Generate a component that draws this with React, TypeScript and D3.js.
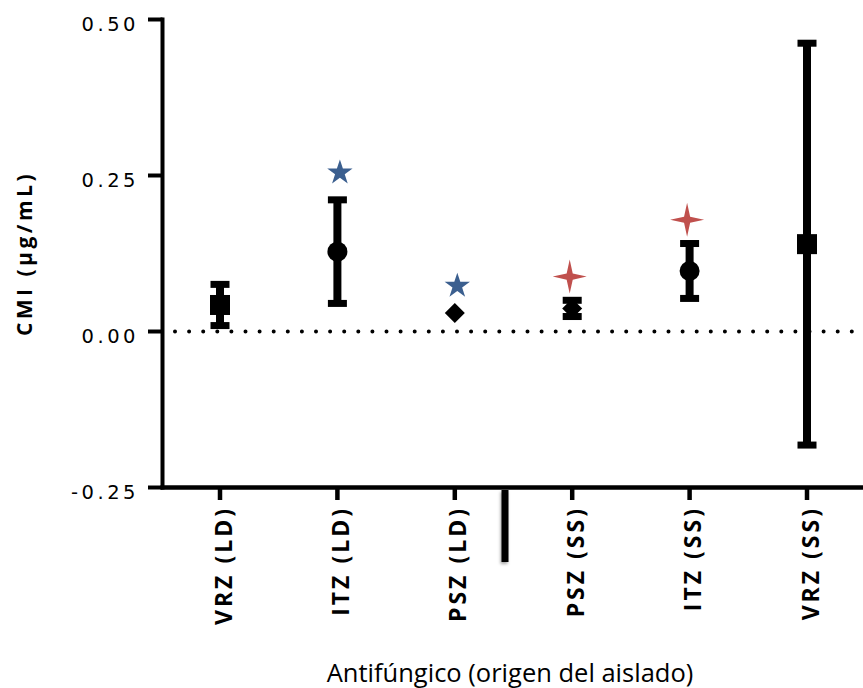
import React from "react";
import * as d3 from "d3";

const categories = ["VRZ (LD)", "ITZ (LD)", "PSZ (LD)", "PSZ (SS)", "ITZ (SS)", "VRZ (SS)"];
const means = [0.0425, 0.128, 0.0295, 0.037, 0.097, 0.14];
const errors = [0.033, 0.083, 0, 0.013, 0.044, 0.322];
const markers = ["square", "circle", "diamond", "diamond", "circle", "square"];

const blueStarCats = ["ITZ (LD)", "PSZ (LD)"];
const blueStarValues = [0.2545, 0.073];
const redStarCats = ["PSZ (SS)", "ITZ (SS)"];
const redStarValues = [0.088, 0.179];

const yTicks = [0.5, 0.25, 0, -0.25];
const yTickLabels = ["0.50", "0.25", "0.00", "-0.25"];

const yTitle = "CMI (µg/mL)";
const xTitle = "Antifúngico (origen del aislado)";

const W = 863;
const H = 688;

export default function App() {
  const y = d3.scaleLinear().domain([-0.25, 0.5]).range([487.5, 19.5]);
  const x = d3.scalePoint<string>().domain(categories).range([220, 807]);
  const axisX = 162.5;
  const axisY = y(-0.25);

  const starPath = d3.symbol().type(d3.symbolStar).size(199)() as string;
  const R = 17, r = 4.3;
  const fourStar = (() => {
    const pts: [number, number][] = [];
    for (let i = 0; i < 8; i++) {
      const a = (i * Math.PI) / 4 - Math.PI / 2;
      const rad = i % 2 === 0 ? R : r;
      pts.push([rad * Math.cos(a), rad * Math.sin(a)]);
    }
    return d3.line()(pts.concat([pts[0]])) + "Z";
  })();

  const blue = "#3B5F8F";
  const red = "#C0504D";
  const tickFont = "'DejaVu Sans', Verdana, sans-serif";
  const boldFont = "'Open Sans', sans-serif";

  return (
    <div style={{ position: "absolute", left: 0, top: 0 }}>
      <svg width={W} height={H} style={{ display: "block", background: "#fff" }}>
        <defs>
          <filter id="shadow" x="-100%" y="-20%" width="300%" height="150%">
            <feDropShadow dx="-1" dy="2" stdDeviation="1.5" floodColor="#000" floodOpacity="0.35" />
          </filter>
        </defs>

        {/* zero dotted line */}
        <line
          x1={175}
          x2={W}
          y1={y(0)}
          y2={y(0)}
          stroke="#000"
          strokeWidth={4}
          strokeLinecap="round"
          strokeDasharray="0 14.1"
        />

        {/* y axis */}
        <line x1={axisX} x2={axisX} y1={y(0.5) - 2} y2={axisY + 2} stroke="#000" strokeWidth={4} />
        {yTicks.map((t, i) => (
          <g key={t}>
            <line x1={148} x2={axisX} y1={y(t)} y2={y(t)} stroke="#000" strokeWidth={4} />
            <text
              x={139}
              y={y(t) + 11}
              textAnchor="end"
              fontFamily={tickFont}
              fontSize={19.5}
              letterSpacing={3.5}
              fill="#000"
            >
              {yTickLabels[i]}
            </text>
          </g>
        ))}

        {/* x axis */}
        <line x1={axisX - 2} x2={W} y1={axisY} y2={axisY} stroke="#000" strokeWidth={4.5} />
        {categories.map((c) => (
          <g key={c}>
            <line x1={x(c)} x2={x(c)} y1={axisY} y2={axisY + 12.5} stroke="#000" strokeWidth={4.5} />
            <text
              transform={`translate(${(x(c) as number) + 11.5},${506}) rotate(-90)`}
              textAnchor="end"
              fontFamily={boldFont}
              fontWeight={700}
              fontSize={23}
              letterSpacing={3}
              fill="#000"
            >
              {c}
            </text>
          </g>
        ))}

        {/* axis break mark */}
        <rect x={501.5} y={490} width={7} height={72} fill="#000" filter="url(#shadow)" />

        {/* error bars and markers */}
        {categories.map((c, i) => {
          const cx = x(c) as number;
          const m = means[i];
          const e = errors[i];
          const cy = y(m);
          const shape = markers[i];
          return (
            <g key={c}>
              {shape === "diamond" && (
                <path
                  d={`M${cx},${cy - 10}L${cx + 10},${cy}L${cx},${cy + 10}L${cx - 10},${cy}Z`}
                  fill="#000"
                />
              )}
              {e > 0 && (
                <g>
                  <line x1={cx} x2={cx} y1={y(m + e)} y2={y(m - e)} stroke="#000" strokeWidth={8} />
                  <rect x={cx - 9.5} y={y(m + e) - 3.5} width={19} height={7} fill="#000" />
                  <rect x={cx - 9.5} y={y(m - e) - 3.5} width={19} height={7} fill="#000" />
                </g>
              )}
              {shape === "square" && <rect x={cx - 10} y={cy - 10} width={20} height={20} fill="#000" />}
              {shape === "circle" && <circle cx={cx} cy={cy} r={10} fill="#000" />}
            </g>
          );
        })}

        {/* significance stars */}
        {blueStarCats.map((c, i) => (
          <path
            key={"b" + c}
            d={starPath}
            transform={`translate(${(x(c) as number) + 2.5},${y(blueStarValues[i])})`}
            fill={blue}
          />
        ))}
        {redStarCats.map((c, i) => (
          <path
            key={"r" + c}
            d={fourStar}
            transform={`translate(${(x(c) as number) - 2.5},${y(redStarValues[i])})`}
            fill={red}
          />
        ))}

        {/* axis titles */}
        <text
          transform={`translate(32,253.5) rotate(-90)`}
          textAnchor="middle"
          fontFamily={boldFont}
          fontWeight={700}
          fontSize={21}
          letterSpacing={3.5}
          fill="#000"
        >
          {yTitle}
        </text>
        <text
          x={510}
          y={681.5}
          textAnchor="middle"
          fontFamily={boldFont}
          fontSize={25.5}
          fill="#000"
        >
          {xTitle}
        </text>
      </svg>
    </div>
  );
}
